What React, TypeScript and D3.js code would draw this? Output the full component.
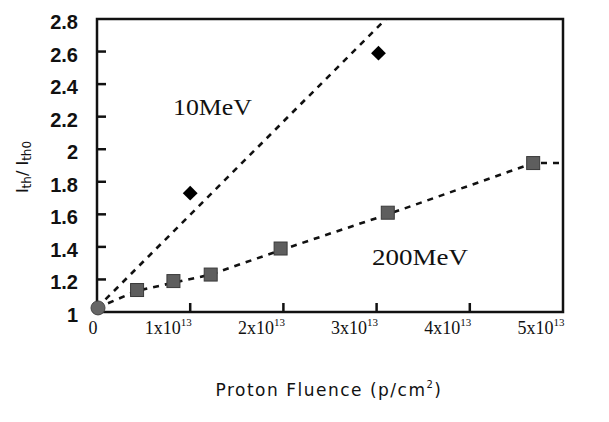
import React, { useEffect, useRef } from "react";
import * as d3 from "d3";

// fluence in units of 1e13 p/cm^2, ratio Ith/Ith0
const fluence10 = [1.0, 3.02];
const ratio10 = [1.73, 2.59];

const fluence200 = [0.43, 0.82, 1.22, 1.97, 3.12, 4.68];
const ratio200 = [1.135, 1.19, 1.23, 1.39, 1.61, 1.915];

const originPoint = [0, 1.025];

// dashed trend lines
const trend10X = [0, 3.1];
const trend10Y = [1.025, 2.8];
const trend200X = [0, 0.43, 0.82, 1.22, 1.97, 3.12, 4.68, 5.0];
const trend200Y = [1.025, 1.13, 1.18, 1.23, 1.38, 1.6, 1.915, 1.915];

const yTicks = [1, 1.2, 1.4, 1.6, 1.8, 2, 2.2, 2.4, 2.6, 2.8];
const xTicks = [0, 1, 2, 3, 4, 5];

const W = 609;
const H = 422;

function App() {
  const ref = useRef<SVGSVGElement>(null);

  useEffect(() => {
    const svg = d3.select(ref.current);
    svg.selectAll("*").remove();

    const x = d3.scaleLinear().domain([0, 5]).range([97, 563]);
    const y = d3.scaleLinear().domain([1, 2.8]).range([312, 19]);

    svg.append("rect").attr("width", W).attr("height", H).attr("fill", "white");

    // frame
    svg
      .append("rect")
      .attr("x", x(0))
      .attr("y", y(2.8))
      .attr("width", x(5) - x(0))
      .attr("height", y(1) - y(2.8))
      .attr("fill", "none")
      .attr("stroke", "#111")
      .attr("stroke-width", 2.5);

    // y ticks (inward)
    svg
      .selectAll(".ytick")
      .data(yTicks.slice(1, -1))
      .enter()
      .append("line")
      .attr("x1", x(0))
      .attr("x2", x(0) + 9)
      .attr("y1", (d) => y(d))
      .attr("y2", (d) => y(d))
      .attr("stroke", "#111")
      .attr("stroke-width", 2.5);

    svg
      .selectAll(".ylab")
      .data(yTicks)
      .enter()
      .append("text")
      .attr("x", 78)
      .attr("y", (d) => y(d) + 3)
      .attr("text-anchor", "end")
      .attr("dominant-baseline", "central")
      .attr("font-family", "Liberation Sans, Arial, sans-serif")
      .attr("font-weight", "bold")
      .attr("font-size", 20)
      .attr("fill", "#111")
      .text((d) => (d === 1 || d === 2 ? String(d) : d.toFixed(1)));

    // x ticks (inward)
    svg
      .selectAll(".xtick")
      .data(xTicks.slice(1, -1))
      .enter()
      .append("line")
      .attr("x1", (d) => x(d))
      .attr("x2", (d) => x(d))
      .attr("y1", y(1))
      .attr("y2", y(1) - 9)
      .attr("stroke", "#111")
      .attr("stroke-width", 2.5);

    // x tick labels: "Nx10^13" in serif, sitting a little left of the ticks
    svg
      .selectAll(".xlab")
      .data(xTicks)
      .enter()
      .append("text")
      .attr("x", (d) => (d === 0 ? x(d) - 4 : x(d) - 22))
      .attr("y", 334)
      .attr("text-anchor", "middle")
      .attr("font-family", "Liberation Serif, Times New Roman, serif")
      .attr("font-size", 18)
      .attr("fill", "#111")
      .each(function (d) {
        const t = d3.select(this);
        if (d === 0) {
          t.text("0");
        } else {
          t.append("tspan").text(`${d}x10`);
          t.append("tspan").attr("dy", -8).attr("font-size", 11).text("13");
        }
      });

    const path = d3
      .line<[number, number]>()
      .x((d) => x(d[0]))
      .y((d) => y(d[1]));

    // trend lines
    svg
      .append("path")
      .attr("d", path(trend10X.map((v, i) => [v, trend10Y[i]] as [number, number])))
      .attr("fill", "none")
      .attr("stroke", "#111")
      .attr("stroke-width", 2.6)
      .attr("stroke-dasharray", "6,6");

    svg
      .append("path")
      .attr("d", path(trend200X.map((v, i) => [v, trend200Y[i]] as [number, number])))
      .attr("fill", "none")
      .attr("stroke", "#111")
      .attr("stroke-width", 2.6)
      .attr("stroke-dasharray", "6,6");

    // 200MeV squares
    svg
      .selectAll(".sq")
      .data(fluence200)
      .enter()
      .append("rect")
      .attr("x", (d) => x(d) - 6.5)
      .attr("y", (d, i) => y(ratio200[i]) - 6.5)
      .attr("width", 13)
      .attr("height", 13)
      .attr("fill", "#5e5e5e")
      .attr("stroke", "#3a3a3a")
      .attr("stroke-width", 1);

    // 10MeV diamonds
    const sym = d3.symbol().type(d3.symbolSquare).size(110);
    svg
      .selectAll(".dm")
      .data(fluence10)
      .enter()
      .append("path")
      .attr("d", sym)
      .attr(
        "transform",
        (d, i) => `translate(${x(d)},${y(ratio10[i])}) rotate(45)`
      )
      .attr("fill", "#000");

    // origin point
    svg
      .append("circle")
      .attr("cx", x(originPoint[0]) + 1)
      .attr("cy", y(originPoint[1]))
      .attr("r", 7)
      .attr("fill", "#666")
      .attr("stroke", "#444");

    // series labels
    svg
      .append("text")
      .attr("x", 173)
      .attr("y", 115)
      .attr("font-family", "Liberation Serif, Times New Roman, serif")
      .attr("font-size", 23)
      .attr("textLength", 79)
      .attr("lengthAdjust", "spacingAndGlyphs")
      .attr("fill", "#111")
      .text("10MeV");
    svg
      .append("text")
      .attr("x", 372)
      .attr("y", 265)
      .attr("font-family", "Liberation Serif, Times New Roman, serif")
      .attr("font-size", 23)
      .attr("textLength", 96)
      .attr("lengthAdjust", "spacingAndGlyphs")
      .attr("fill", "#111")
      .text("200MeV");

    // axis titles
    const xt = svg
      .append("text")
      .attr("x", 329)
      .attr("y", 396)
      .attr("text-anchor", "middle")
      .attr("font-family", "DejaVu Sans, sans-serif")
      .attr("font-size", 17)
      .attr("letter-spacing", 1.5)
      .attr("fill", "#111");
    xt.append("tspan").text("Proton Fluence (p/cm");
    xt.append("tspan").attr("dy", -8).attr("font-size", 10).text("2");
    xt.append("tspan").attr("dy", 8).text(")");

    const yt = svg
      .append("text")
      .attr("transform", "translate(28,167) rotate(-90)")
      .attr("text-anchor", "middle")
      .attr("font-family", "DejaVu Sans, sans-serif")
      .attr("font-size", 16)
      .attr("fill", "#111");
    yt.append("tspan").text("I");
    yt.append("tspan").attr("dy", 3).attr("font-size", 12).text("th");
    yt.append("tspan").attr("dy", -3).text("/ I");
    yt.append("tspan").attr("dy", 3).attr("font-size", 12).text("th0");
  }, []);

  return (
    <svg
      ref={ref}
      width={W}
      height={H}
      style={{ position: "absolute", left: 0, top: 0 }}
    />
  );
}

export default App;
